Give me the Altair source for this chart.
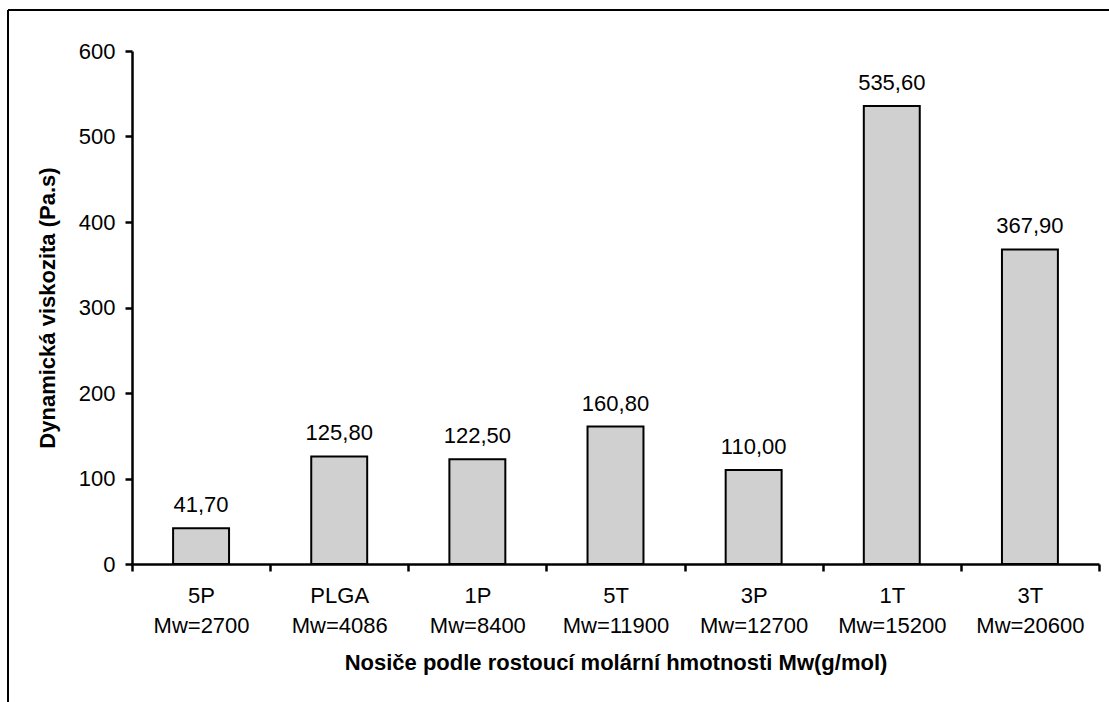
import altair as alt
import pandas as pd

# Carriers ordered by increasing molar mass
names = ["5P", "PLGA", "1P", "5T", "3P", "1T", "3T"]
mw = [2700, 4086, 8400, 11900, 12700, 15200, 20600]
viscosity = [41.70, 125.80, 122.50, 160.80, 110.00, 535.60, 367.90]
y_ticks = [0, 100, 200, 300, 400, 500, 600]

df = pd.DataFrame({
    "cat": [f"{n}|Mw={m}" for n, m in zip(names, mw)],
    "value": viscosity,
    "label": [f"{v:.2f}".replace(".", ",") for v in viscosity],
})

FONT = "Liberation Sans"
FS = 22
W, H = 967, 513
LEFT, TOP = 132, 51

x = alt.X(
    "cat:N",
    sort=None,
    scale=alt.Scale(paddingInner=0, paddingOuter=0),
    axis=alt.Axis(
        title="Nosiče podle rostoucí molární hmotnosti Mw(g/mol)",
        labelExpr="split(datum.label, '|')",
        labelAngle=0,
        labelLineHeight=30,
        labelPadding=14,
        tickBand="extent",
        tickSize=7,
        titlePadding=16,
    ),
)
y = alt.Y(
    "value:Q",
    scale=alt.Scale(domain=[0, 600], nice=False),
    axis=alt.Axis(
        title="Dynamická viskozita (Pa.s)",
        values=y_ticks,
        labelPadding=10,
        tickSize=7,
        grid=False,
        titlePadding=19,
    ),
)

bars = alt.Chart(df).mark_bar(
    color="#d0d0d0", stroke="black", strokeWidth=2,
    width=alt.RelativeBandSize(0.405),
).encode(x=x, y=y)

texts = alt.Chart(df).mark_text(
    baseline="alphabetic", dy=-16, fontSize=FS, font=FONT, color="black"
).encode(x=x, y=y, text="label:N")

# Frame lines (top and left) around the figure
frame_left = alt.Chart(df).mark_rule(color="black", strokeWidth=1.5).encode(
    x=alt.value(8 - LEFT), y=alt.value(10 - TOP), y2=alt.value(702 - TOP)
)
frame_top = alt.Chart(df).mark_rule(color="black", strokeWidth=1.5).encode(
    x=alt.value(8 - LEFT), x2=alt.value(1109 - LEFT), y=alt.value(10 - TOP)
)

chart = (
    alt.layer(bars, texts, frame_left, frame_top)
    .properties(
        width=W,
        height=H,
        autosize=alt.AutoSizeParams(type="none"),
        padding={"left": LEFT, "top": TOP, "right": 1109 - LEFT - W, "bottom": 702 - TOP - H},
        background="white",
    )
    .configure(font=FONT)
    .configure_view(stroke=None)
    .configure_axis(
        labelFont=FONT,
        labelFontSize=FS,
        labelColor="black",
        titleFont=FONT,
        titleFontSize=FS,
        titleFontWeight="bold",
        titleColor="black",
        domainColor="black",
        domainWidth=2.5,
        tickColor="black",
        tickWidth=2.5,
        ticks=True,
    )
)

chart.save("out.html", embed_options={"renderer": "svg", "actions": False})
